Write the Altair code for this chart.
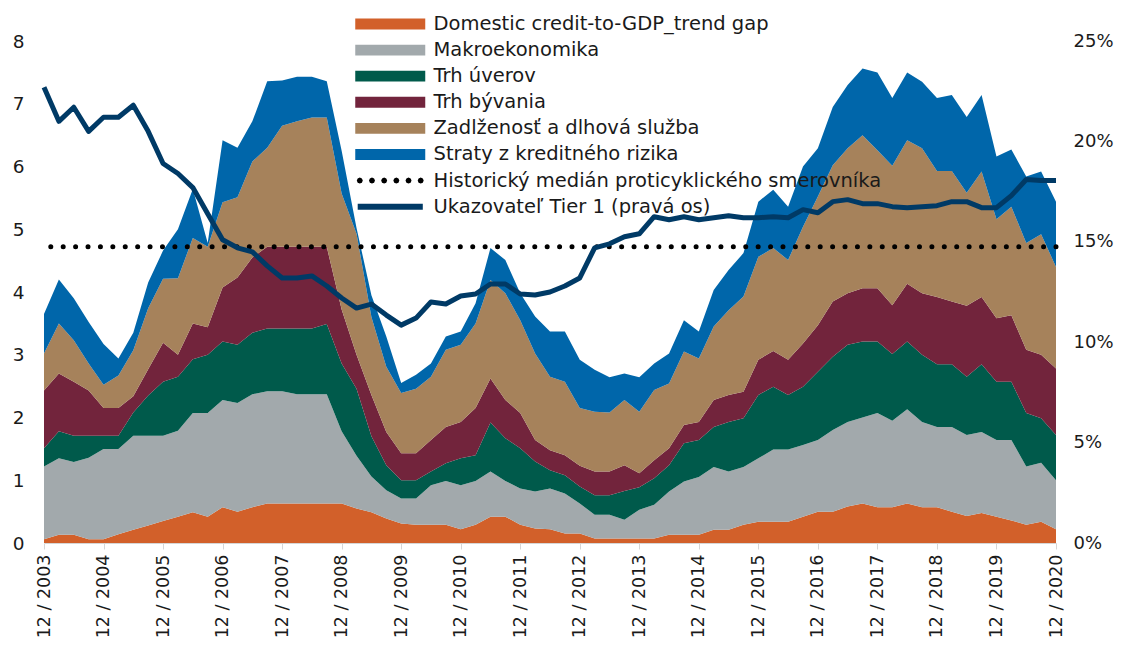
import altair as alt
import pandas as pd

FONT = "DejaVu Sans"
TXT = "#1a1a1a"

# ---- categories -------------------------------------------------------------
QUARTER_INDEX = list(range(69))          # 12/2003 ... 12/2020, quarterly
TICK_POSITIONS = list(range(0, 69, 4))
TICK_LABELS = ["12 / 2003", "12 / 2004", "12 / 2005", "12 / 2006", "12 / 2007",
               "12 / 2008", "12 / 2009", "12 / 2010", "12 / 2011", "12 / 2012",
               "12 / 2013", "12 / 2014", "12 / 2015", "12 / 2016", "12 / 2017",
               "12 / 2018", "12 / 2019", "12 / 2020"]

SERIES = ["Domestic credit-to-GDP_trend gap", "Makroekonomika", "Trh úverov",
          "Trh bývania", "Zadlženosť a dlhová služba", "Straty z kreditného rizika"]
COLORS = ["#D2602A", "#A2A9AC", "#005A4B", "#72243C", "#A6825B", "#0066AA"]
MED_LABEL = "Historický medián proticyklického smerovníka"
TIER_LABEL = "Ukazovateľ Tier 1 (pravá os)"

# ---- series values (stacked components, left axis) -------------------------
credit_gap = [0.06, 0.13, 0.13, 0.06, 0.06, 0.14, 0.21, 0.28, 0.35, 0.42,
              0.49, 0.42, 0.57, 0.50, 0.57, 0.63, 0.63, 0.63, 0.63, 0.63,
              0.63, 0.55, 0.49, 0.39, 0.31, 0.29, 0.29, 0.29, 0.22, 0.29,
              0.42, 0.42, 0.29, 0.23, 0.22, 0.15, 0.15, 0.07, 0.07, 0.07,
              0.07, 0.07, 0.13, 0.13, 0.13, 0.21, 0.21, 0.29, 0.34, 0.34,
              0.34, 0.42, 0.50, 0.50, 0.58, 0.63, 0.57, 0.57, 0.63, 0.57,
              0.57, 0.50, 0.43, 0.48, 0.42, 0.36, 0.29, 0.34, 0.22]
macro = [1.16, 1.22, 1.16, 1.30, 1.44, 1.36, 1.50, 1.43, 1.36, 1.37,
         1.58, 1.65, 1.71, 1.73, 1.80, 1.79, 1.79, 1.74, 1.74, 1.74,
         1.15, 0.84, 0.57, 0.45, 0.40, 0.42, 0.63, 0.70, 0.70, 0.70,
         0.72, 0.57, 0.58, 0.59, 0.65, 0.64, 0.48, 0.38, 0.38, 0.30,
         0.46, 0.54, 0.69, 0.85, 0.92, 1.00, 0.93, 0.92, 1.01, 1.15,
         1.15, 1.14, 1.14, 1.30, 1.35, 1.37, 1.50, 1.38, 1.50, 1.36,
         1.28, 1.35, 1.29, 1.29, 1.22, 1.28, 0.93, 0.94, 0.78]
credit_market = [0.29, 0.43, 0.42, 0.35, 0.21, 0.21, 0.37, 0.64, 0.86, 0.86,
                 0.86, 0.93, 0.93, 0.93, 0.98, 1.00, 1.00, 1.05, 1.05, 1.12,
                 1.08, 1.07, 0.64, 0.40, 0.29, 0.29, 0.22, 0.28, 0.43, 0.41,
                 0.78, 0.68, 0.64, 0.48, 0.29, 0.29, 0.27, 0.31, 0.31, 0.46,
                 0.36, 0.42, 0.42, 0.61, 0.59, 0.64, 0.79, 0.78, 1.01, 1.00,
                 0.87, 0.93, 1.09, 1.17, 1.23, 1.21, 1.14, 1.06, 1.08, 1.07,
                 1.00, 1.00, 0.93, 1.08, 0.93, 0.93, 0.85, 0.71, 0.72]
housing = [0.92, 0.92, 0.86, 0.72, 0.44, 0.44, 0.26, 0.42, 0.62, 0.35,
           0.57, 0.44, 0.86, 1.07, 1.20, 1.30, 1.30, 1.30, 1.30, 1.23,
           0.86, 0.54, 0.66, 0.53, 0.43, 0.43, 0.50, 0.58, 0.58, 0.75,
           0.70, 0.61, 0.56, 0.34, 0.32, 0.32, 0.33, 0.38, 0.38, 0.41,
           0.22, 0.29, 0.27, 0.29, 0.29, 0.43, 0.43, 0.42, 0.56, 0.57,
           0.56, 0.69, 0.74, 0.88, 0.82, 0.85, 0.85, 0.78, 0.92, 0.98,
           1.07, 1.00, 1.13, 1.07, 1.01, 1.06, 1.01, 1.01, 1.06]
debt = [0.59, 0.80, 0.66, 0.43, 0.37, 0.52, 0.73, 0.97, 1.02, 1.22,
        1.36, 1.28, 1.36, 1.28, 1.53, 1.58, 1.93, 2.00, 2.06, 2.06,
        1.85, 1.93, 1.24, 1.04, 0.96, 1.03, 1.01, 1.23, 1.23, 1.35,
        1.57, 1.70, 1.48, 1.38, 1.17, 1.17, 0.92, 0.95, 0.94, 1.04,
        0.98, 1.12, 1.03, 1.17, 1.01, 1.17, 1.35, 1.52, 1.64, 1.64,
        1.59, 1.86, 2.05, 2.17, 2.31, 2.44, 2.20, 2.22, 2.29, 2.31,
        2.01, 2.08, 1.80, 2.00, 1.58, 1.73, 1.70, 1.92, 1.62]
credit_losses = [0.63, 0.70, 0.67, 0.66, 0.65, 0.27, 0.28, 0.41, 0.45, 0.78,
                 0.78, 0.06, 0.99, 0.79, 0.64, 1.06, 0.72, 0.71, 0.65, 0.58,
                 0.68, 0.09, 0.35, 0.48, 0.16, 0.22, 0.21, 0.21, 0.21, 0.32,
                 0.51, 0.53, 0.43, 0.59, 0.72, 0.80, 0.77, 0.67, 0.56, 0.42,
                 0.55, 0.42, 0.48, 0.50, 0.43, 0.58, 0.64, 0.69, 0.88, 0.93,
                 0.85, 0.96, 0.77, 0.93, 1.01, 1.06, 1.24, 1.08, 1.08, 1.06,
                 1.16, 1.21, 1.21, 1.22, 1.00, 0.91, 1.06, 1.00, 1.04]

MEDIAN = 4.72

# Tier 1 ratio in % (right axis)
TIER1 = [22.7, 21.0, 21.7, 20.5, 21.2, 21.2, 21.8, 20.5, 18.9, 18.4,
         17.7, 16.4, 15.1, 14.7, 14.5, 13.8, 13.2, 13.2, 13.3, 12.8,
         12.2, 11.7, 11.9, 11.35, 10.85, 11.2, 12.0, 11.9, 12.3, 12.4,
         12.9, 12.9, 12.4, 12.35, 12.5, 12.8, 13.2, 14.7, 14.9, 15.25,
         15.4, 16.25, 16.1, 16.25, 16.1, 16.2, 16.3, 16.2, 16.2, 16.25,
         16.2, 16.6, 16.45, 17.0, 17.1, 16.9, 16.9, 16.75, 16.7, 16.75,
         16.8, 17.0, 17.0, 16.7, 16.7, 17.3, 18.1, 18.05, 18.05]

# ---- tables ------------------------------------------------------------------
components = [credit_gap, macro, credit_market, housing, debt, credit_losses]
rows = []
for k, (name, vals) in enumerate(zip(SERIES, components)):
    for i, v in zip(QUARTER_INDEX, vals):
        rows.append({"idx": i, "series": name, "order": k, "value": v})
areas_df = pd.DataFrame(rows)
tier_df = pd.DataFrame({"idx": QUARTER_INDEX, "tier": TIER1, "name": TIER_LABEL})
med_df = pd.DataFrame({"y": [MEDIAN], "name": [MED_LABEL]})

label_expr = "[" + ",".join("'%s'" % t for t in TICK_LABELS) + "][round(datum.value / 4)]"

# legend symbol shapes (custom paths, scaled by sqrt(size)/2 = 3.5 px / unit)
RECT_PATH = "M-10,-1.55H10V1.55H-10Z"
LINE_PATH = "M-9.3,0H9.3"
dot_centers = [-8.7, -5.22, -1.74, 1.74, 5.22, 8.7]
_oct = [(0.3, 0.0), (0.21, 0.21), (0.0, 0.3), (-0.21, 0.21),
        (-0.3, 0.0), (-0.21, -0.21), (0.0, -0.3), (0.21, -0.21)]
DOT_PATH = "".join(
    "M" + "L".join("%.2f,%.2f" % (c + dx, dy) for dx, dy in _oct) + "Z"
    for c in dot_centers)

LEG_X = 336.5
leg_common = dict(title=None, orient="none", legendX=LEG_X, symbolSize=49,
                  labelFont=FONT, labelFontSize=19.5, labelColor=TXT,
                  labelOffset=33.5, labelLimit=700, padding=0, rowPadding=5.1)

x_enc = alt.X("idx:Q",
              scale=alt.Scale(domain=[0, 68], nice=False, zero=False),
              axis=alt.Axis(values=TICK_POSITIONS, labelExpr=label_expr,
                            labelAngle=270, labelAlign="right", labelBaseline="middle",
                            labelFont=FONT, labelFontSize=17.5, labelColor=TXT,
                            labelPadding=5, tickSize=6, tickColor="#d6d6d6",
                            domainColor="#d6d6d6", grid=False, title=None,
                            labelOverlap=False, labelFlush=False))


def left_axis():
    return alt.Axis(values=list(range(0, 9)), ticks=False, tickSize=0,
                    domain=False, grid=False, title=None, labelFont=FONT,
                    labelFontSize=18.5, labelColor=TXT, labelPadding=20)


areas = alt.Chart(areas_df).mark_area(interpolate="linear").encode(
    x=x_enc,
    y=alt.Y("value:Q", stack="zero",
            scale=alt.Scale(domain=[0, 8], nice=False), axis=left_axis()),
    fill=alt.Fill("series:N", scale=alt.Scale(domain=SERIES, range=COLORS),
                  legend=alt.Legend(legendY=-26.8, symbolType=RECT_PATH,
                                    symbolStrokeWidth=0, **leg_common)),
    order=alt.Order("order:Q", sort="ascending"),
)

median_rule = alt.Chart(med_df).mark_rule(strokeWidth=5, strokeCap="round").encode(
    y=alt.Y("y:Q", scale=alt.Scale(domain=[0, 8], nice=False), axis=left_axis()),
    color=alt.Color("name:N", scale=alt.Scale(domain=[MED_LABEL], range=["#000000"]),
                    legend=alt.Legend(legendY=129.8, symbolType=DOT_PATH,
                                      symbolStrokeWidth=3.6, **leg_common)),
    strokeDash=alt.value([0.01, 12.4]),
)

tier_line = alt.Chart(tier_df).mark_line(strokeWidth=5, strokeJoin="round").encode(
    x=alt.X("idx:Q", scale=alt.Scale(domain=[0, 68], nice=False, zero=False)),
    y=alt.Y("tier:Q", scale=alt.Scale(domain=[0, 25], nice=False),
            axis=alt.Axis(orient="right", values=[0, 5, 10, 15, 20, 25],
                          labelExpr="datum.value + '%'", ticks=False, tickSize=0,
                          domain=False, grid=False, title=None, labelFont=FONT,
                          labelFontSize=18, labelColor=TXT, labelPadding=17)),
    stroke=alt.Stroke("name:N", scale=alt.Scale(domain=[TIER_LABEL], range=["#003A66"]),
                      legend=alt.Legend(legendY=155.9, symbolType=LINE_PATH,
                                        symbolStrokeWidth=6, **leg_common)),
)

chart = alt.layer(
    alt.layer(areas, median_rule),
    tier_line,
).resolve_scale(
    y="independent"
).properties(
    width=1012, height=502,
    padding={"left": 36, "top": 33, "right": 58, "bottom": 97},
    autosize=alt.AutoSizeParams(type="none"),
    background="white",
).configure_view(stroke=None)

chart.save("out.html", embed_options={"renderer": "svg", "actions": False})
